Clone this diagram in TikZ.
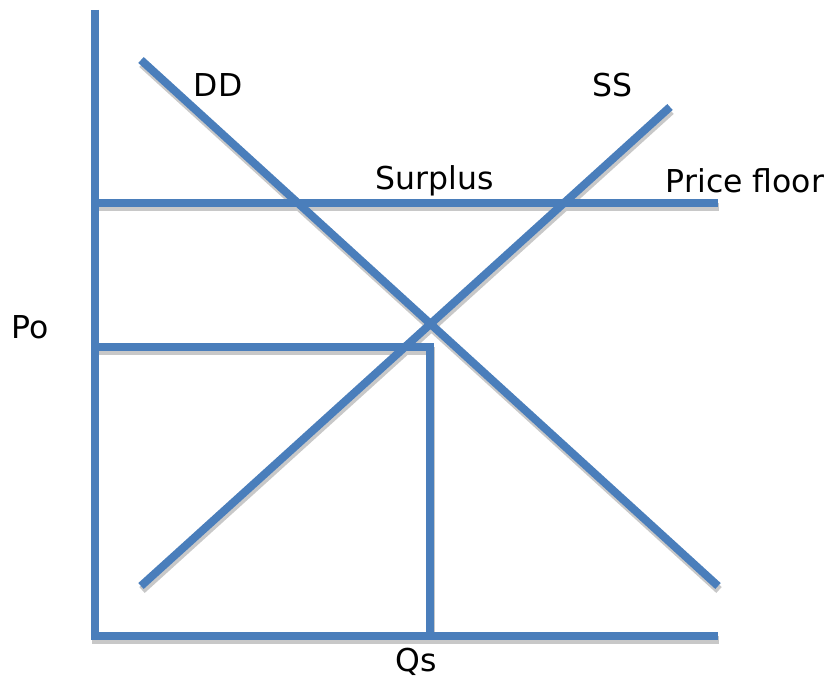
\documentclass[tikz,border=0pt]{standalone}
\usepackage{fontspec}
\setmainfont{DejaVu Sans}
\definecolor{lineblue}{HTML}{4A7EBB}
\definecolor{shadowgray}{HTML}{C8C8C8}
\begin{document}
\begin{tikzpicture}[x=1pt,y=-1pt,
  curve/.style={draw=lineblue,line width=8pt,line cap=butt,line join=miter},
  shade/.style={draw=shadowgray,line width=8pt,line cap=butt,line join=miter,transform canvas={shift={(1,4)}}},
  lbl/.style={font=\fontsize{31.5}{36}\selectfont,inner sep=0pt,anchor=center}]
\useasboundingbox (0,0) rectangle (829,684);
% coordinates
\coordinate (ytop) at (94.5,10);
\coordinate (ybot) at (94.5,639);
\coordinate (xl) at (91,635.5);
\coordinate (xr) at (718,635.5);
\coordinate (dd1) at (141,60);
\coordinate (dd2) at (718,586);
\coordinate (ss1) at (141,586);
\coordinate (ss2) at (670,107);
\coordinate (pf1) at (94.5,203);
\coordinate (pf2) at (718,203);
\coordinate (po1) at (94.5,346.5);
\coordinate (corner) at (429.5,346.5);
\coordinate (qs) at (429.5,635.5);
% shadows
\draw[shade] (xl) -- (xr);
\draw[shade] (dd1) -- (dd2);
\draw[shade] (ss1) -- (ss2);
\draw[shade] (pf1) -- (pf2);
\draw[shade] (po1) -- (corner) -- (qs);
% lines
\draw[curve] (ytop) -- (ybot);
\draw[curve] (xl) -- (xr);
\draw[curve] (dd1) -- (dd2);
\draw[curve] (ss1) -- (ss2);
\draw[curve] (pf1) -- (pf2);
\draw[curve] (po1) -- (corner) -- (qs);
% labels
\node[lbl] (tdd) at (218,85) {DD};
\node[lbl] (tss) at (612,85) {SS};
\node[lbl] (tsur) at (435,181) {Surplus};
\node[lbl] (tpf) at (745,181) {Price floor};
\node[lbl] (tpo) at (30,327) {Po};
\node[lbl] (tqs) at (416,662) {Qs};
\end{tikzpicture}
\end{document}
